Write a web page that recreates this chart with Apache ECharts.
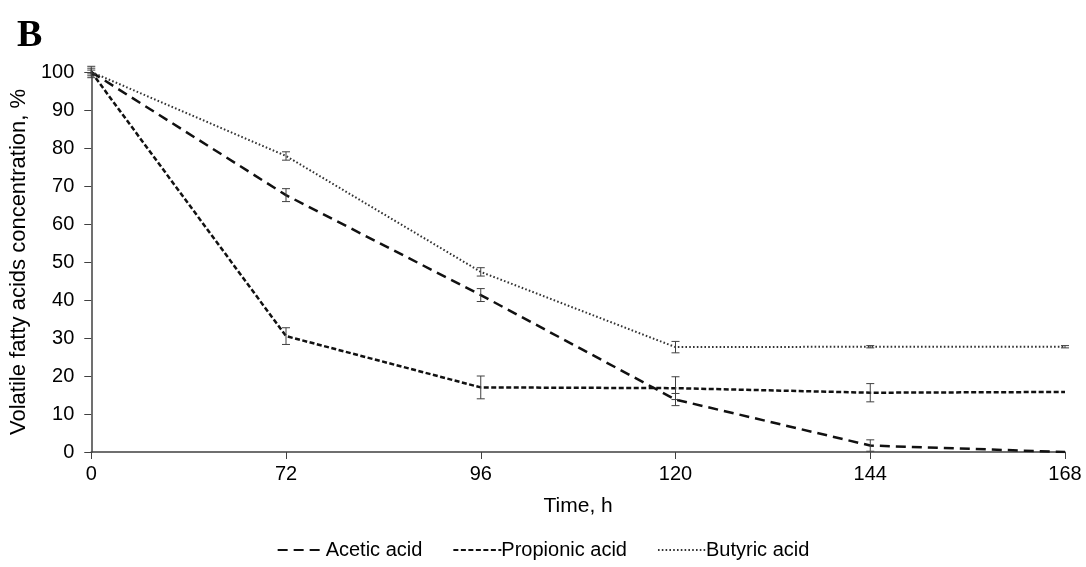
<!DOCTYPE html>
<html>
<head>
<meta charset="utf-8">
<script src="https://cdn.jsdelivr.net/npm/echarts@6/dist/echarts.min.js"></script>
<style>
  html, body { margin: 0; padding: 0; background: #fff; }
  #chart { width: 1086px; height: 567px; }
</style>
</head>
<body>
<div id="chart"></div>
<script>
// Sampling times, h
var times = ['0', '72', '96', '120', '144', '168'];

// Relative concentration of each acid, %
var acetic    = [100, 67.6, 41.3, 13.8, 1.7, 0];
var propionic = [100, 30.5, 17.0, 16.8, 15.6, 15.8];
var butyric   = [100, 77.9, 47.4, 27.6, 27.7, 27.7];

// Standard deviations
var aceticErr    = [1.0, 1.7, 1.7, 1.6, 1.5, 0];
var propionicErr = [1.5, 2.2, 3.0, 3.0, 2.4, 0];
var butyricErr   = [0.5, 1.1, 1.1, 1.5, 0.3, 0.3];

var yTicks = { min: 0, max: 100, interval: 10 };

var FONT = 'Liberation Sans, Arial, sans-serif';
var INK = '#000000';
var AXIS = '#404040';

function errData(vals, errs) {
  return vals.map(function (v, i) { return [i, v, errs[i]]; });
}

// Vertical whisker with caps at value ± error
function renderErr(params, api) {
  var i = api.value(0), v = api.value(1), e = api.value(2);
  if (!e) return null;
  var hi = api.coord([i, v + e]);
  var lo = api.coord([i, v - e]);
  var cap = 4;
  var st = { stroke: '#404040', lineWidth: 1 };
  return {
    type: 'group',
    children: [
      { type: 'line', shape: { x1: hi[0], y1: hi[1], x2: lo[0], y2: lo[1] }, style: st },
      { type: 'line', shape: { x1: hi[0] - cap, y1: hi[1], x2: hi[0] + cap, y2: hi[1] }, style: st },
      { type: 'line', shape: { x1: lo[0] - cap, y1: lo[1], x2: lo[0] + cap, y2: lo[1] }, style: st }
    ]
  };
}

function lineSeries(name, data, dash, width, color) {
  return {
    name: name,
    type: 'line',
    data: data,
    symbol: 'none',
    z: 3,
    lineStyle: { color: color, width: width, type: dash, cap: 'butt' },
    itemStyle: { color: color }
  };
}

function errSeries(vals, errs) {
  return {
    type: 'custom',
    data: errData(vals, errs),
    renderItem: renderErr,
    encode: { x: 0, y: 1 },
    z: 4,
    silent: true
  };
}

var chart = echarts.init(document.getElementById('chart'), null, { renderer: 'canvas' });

chart.setOption({
  animation: false,
  backgroundColor: '#ffffff',
  title: {
    text: 'B',
    left: 12,
    top: 12,
    textStyle: { fontFamily: 'Liberation Serif, Times New Roman, serif', fontWeight: 'bold', fontSize: 38, color: INK }
  },
  grid: { left: 90, right: 21, top: 72, bottom: 115, containLabel: false },
  legend: {
    bottom: 2,
    left: 'center',
    itemWidth: 48,
    itemHeight: 10,
    itemGap: 30,
    itemStyle: { opacity: 0 },
    textStyle: { fontFamily: FONT, fontSize: 20, color: INK, padding: [0, 0, 0, -5] },
    data: ['Acetic acid', 'Propionic acid', 'Butyric acid']
  },
  xAxis: {
    type: 'category',
    data: times,
    boundaryGap: false,
    name: 'Time, h',
    nameLocation: 'middle',
    nameGap: 44,
    nameTextStyle: { fontFamily: FONT, fontSize: 21, color: INK },
    axisLine: { lineStyle: { color: AXIS, width: 1.5 } },
    axisTick: { show: true, length: 7, inside: false, lineStyle: { color: AXIS } },
    axisLabel: { fontFamily: FONT, fontSize: 20, color: INK, margin: 12 },
    splitLine: { show: false }
  },
  yAxis: {
    type: 'value',
    min: yTicks.min,
    max: yTicks.max,
    interval: yTicks.interval,
    name: 'Volatile fatty acids concentration, %',
    nameLocation: 'middle',
    nameGap: 58,
    nameTextStyle: { fontFamily: FONT, fontSize: 22, color: INK },
    axisLine: { show: true, lineStyle: { color: AXIS, width: 1.5 } },
    axisTick: { show: true, length: 7, lineStyle: { color: AXIS } },
    axisLabel: { fontFamily: FONT, fontSize: 20, color: INK, margin: 17 },
    splitLine: { show: false }
  },
  series: [
    lineSeries('Acetic acid', acetic, [10, 6], 2.5, '#111111'),
    lineSeries('Propionic acid', propionic, [5, 2.5], 2.5, '#111111'),
    lineSeries('Butyric acid', butyric, [1.6, 2.2], 2, '#333333'),
    errSeries(acetic, aceticErr),
    errSeries(propionic, propionicErr),
    errSeries(butyric, butyricErr)
  ]
});
</script>
</body>
</html>
